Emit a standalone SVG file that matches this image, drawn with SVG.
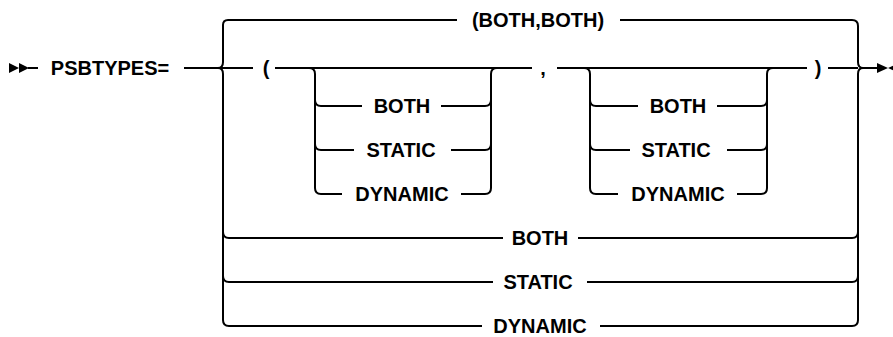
<svg xmlns="http://www.w3.org/2000/svg" width="893" height="337" viewBox="0 0 893 337">
<style>
.c{fill:none;stroke:#000;stroke-width:2;stroke-linecap:butt;stroke-linejoin:round}
.m{fill:#000;stroke:none}
text{font-family:"Liberation Sans",Arial,sans-serif;font-size:20px;font-weight:bold;fill:#000;text-anchor:middle}
</style>
<rect width="893" height="337" fill="#fff"/>
<g id="connectors">
<polygon class="m" points="9,63 19,68 9,73"/>
<polygon class="m" points="19,63 29,68 19,73"/>
<path class="c" d="M28 68H38"/>
<path class="c" d="M184 68H218"/>
<path class="c" d="M228 20Q223 20 223 25V62Q223 68 218 68Q223 68 223 74V320Q223 326 229 326"/>
<path class="c" d="M223 232Q223 238 229 238M223 276Q223 282 229 282"/>
<path class="c" d="M228 20H457M620 20H852"/>
<path class="c" d="M852 20Q858 20 858 26V62Q858 68 863 68Q858 68 858 74V320Q858 326 852 326"/>
<path class="c" d="M852 238Q858 238 858 232M852 282Q858 282 858 276"/>
<path class="c" d="M862 68H877"/>
<polygon class="m" points="877,63 888,68 877,73"/>
<polygon class="m" points="899,63 888,68 899,73"/>
<path class="c" d="M218 68H253M275 68H532M557 68H807M828 68H858"/>
<path class="c" d="M309 68Q315 68 315 74V188Q315 194 321 194M315 100Q315 106 321 106M315 144Q315 150 321 150"/>
<path class="c" d="M485 194Q491 194 491 188V74Q491 68 497 68M485 106Q491 106 491 100M485 150Q491 150 491 144"/>
<path class="c" d="M321 106H362M441 106H485M321 150H354M451 150H485M321 194H342M461 194H485"/>
<path class="c" d="M584 68Q590 68 590 74V188Q590 194 596 194M590 100Q590 106 596 106M590 144Q590 150 596 150"/>
<path class="c" d="M761 194Q767 194 767 188V74Q767 68 773 68M761 106Q767 106 767 100M761 150Q767 150 767 144"/>
<path class="c" d="M596 106H638M717 106H761M596 150H630M727 150H761M596 194H618M737 194H761"/>
<path class="c" d="M229 238H503M578 238H852M229 282H493M587 282H852M229 326H482M600 326H852"/>
</g>
<g id="keyword"><text x="110" y="75">PSBTYPES=</text></g>
<g id="opt-both-both"><text x="538" y="27">(BOTH,BOTH)</text></g>
<g id="lparen"><text x="266" y="75">(</text></g>
<g id="comma"><text x="543" y="75">,</text></g>
<g id="rparen"><text x="818" y="75">)</text></g>
<g id="g1-both"><text x="402" y="113">BOTH</text></g>
<g id="g1-static"><text x="401" y="157">STATIC</text></g>
<g id="g1-dynamic"><text x="402" y="201">DYNAMIC</text></g>
<g id="g2-both"><text x="678" y="113">BOTH</text></g>
<g id="g2-static"><text x="676" y="157">STATIC</text></g>
<g id="g2-dynamic"><text x="678" y="201">DYNAMIC</text></g>
<g id="both"><text x="540" y="245">BOTH</text></g>
<g id="static"><text x="538" y="289">STATIC</text></g>
<g id="dynamic"><text x="540" y="333">DYNAMIC</text></g>
</svg>
